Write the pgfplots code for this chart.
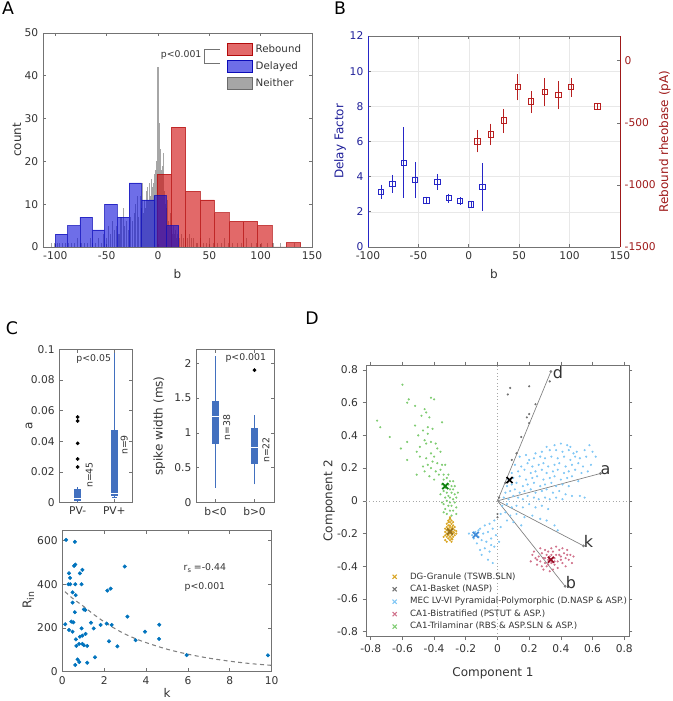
\documentclass[border=0pt]{standalone}
\usepackage{pgfplots}
\pgfplotsset{compat=1.18}
\usepackage{fontspec}
\setmainfont{DejaVu Sans}
\definecolor{axgray}{rgb}{0.45,0.45,0.45}
\definecolor{txt}{rgb}{0.2,0.2,0.2}
\definecolor{hred}{rgb}{0.82,0.05,0.05}
\definecolor{hblue}{rgb}{0.05,0.05,0.85}
\definecolor{hgray}{rgb}{0.42,0.42,0.42}
\definecolor{dblue}{rgb}{0.12,0.12,0.6}
\definecolor{mblue}{rgb}{0.15,0.15,0.78}
\definecolor{dred}{rgb}{0.62,0.1,0.1}
\definecolor{mred}{rgb}{0.72,0.12,0.12}
\definecolor{bxc}{rgb}{0.26,0.44,0.75}
\definecolor{sct}{rgb}{0.0,0.45,0.74}
\definecolor{cOr}{rgb}{0.85,0.65,0.15}
\definecolor{cOrD}{rgb}{0.6,0.45,0.12}
\definecolor{cGr}{rgb}{0.45,0.45,0.45}
\definecolor{cBl}{rgb}{0.5,0.78,0.96}
\definecolor{cBlD}{rgb}{0.25,0.55,0.85}
\definecolor{cRd}{rgb}{0.82,0.45,0.55}
\definecolor{cRdD}{rgb}{0.6,0.05,0.15}
\definecolor{cGn}{rgb}{0.5,0.8,0.45}
\definecolor{cGnD}{rgb}{0.05,0.5,0.05}
\newcommand{\tk}{\fontsize{8}{9}\selectfont}
\newcommand{\lb}{\fontsize{9}{10}\selectfont}
\newcommand{\an}{\fontsize{7}{8}\selectfont}
\newcommand{\pl}{\fontsize{13}{13}\selectfont}
\pgfplotsset{
  base/.style={scale only axis, anchor=south west,
    axis line style={draw=axgray, line width=0.5pt},
    tick style={draw=axgray, line width=0.5pt},
    tick align=inside, major tick length=2.5pt,
    ticklabel style={font=\tk, text=txt},
    label style={font=\lb, text=txt},
    /pgf/number format/assume math mode=true,
    /pgf/number format/1000 sep={}},
}
\begin{document}
\begin{tikzpicture}
\useasboundingbox (0,0) rectangle (504.75pt,525.75pt);
% ================= A =================
\begin{axis}[base, at={(32.25pt,340.5pt)}, width=201.75pt, height=160.5pt,
  xmin=-112, xmax=150, ymin=0, ymax=50,
  xtick={-100,-50,0,50,100,150}, ytick={0,10,20,30,40,50},
  xlabel={b}, ylabel={count},
  ylabel style={at={(axis description cs:-0.097,0.5)}, anchor=center},
  legend style={at={(0.975,0.965)}, anchor=north east, draw=none, fill=none,
    font=\fontsize{7.7}{8}\selectfont, text=txt, row sep=1.2pt, inner sep=1pt},
  legend cell align=left,
  legend image code/.code={\draw[#1] (0pt,-4.5pt) rectangle (18.75pt,4.5pt);}]
\addplot[forget plot, ycomb, draw=hgray, line width=0.8pt, opacity=0.6] coordinates {
(-104,1)(-101,1)(-98,1)(-96,1)(-93,1)(-90,1)(-87,1)(-84,1)(-81,1)(-78,2)(-75,1)(-72,1)(-69,1)(-66,2)(-64,1)(-61,1)(-58,2)(-55,1)(-53,3)(-50,2)(-48,5)(-46,3)(-44,6)(-42,4)(-40,5)(-38,3)(-36,7)(-34,9)(-33,5)(-31,6)(-29,4)(-27,7)(-25,6)(-23,8)(-22,10)(-20,12)(-19,7)(-17,12)(-16,9)(-15,15)(-14,8)(-13,11)(-12,9)(-11,13)(-10,14)(-9,11)(-8,15)(-7,12)(-6,16)(-5,14)(-4,15)(-3,17)(-2,18)(-1,20)(0,42)(1,29)(2,23)(3,18)(4,19)(5,22)(6,13)(7,10)(8,9)(9,11)(10,6)(11,5)(12,8)(13,4)(14,3)(15,5)(16,3)(17,4)(18,2)(19,3)(21,2)(23,3)(25,2)(27,4)(29,2)(31,3)(33,2)(35,2)(38,1)(41,2)(44,1)(47,1)(50,2)(54,1)(58,1)(62,1)(65,2)(69,1)(73,1)(77,1)(81,1)(86,2)(91,1)(96,1)(101,1)(107,1)(112,1)(119,1)(133,1)};
\addplot[forget plot, ybar interval, fill=hred, fill opacity=0.62, draw=hred!85!black, draw opacity=0.7, line width=0.4pt] coordinates {
(-1,17)(13,28)(27,13)(41,11)(55,8)(69,6)(83,6)(97,5)(111,0)(125,1)(139,0)};
\addplot[forget plot, ybar interval, fill=hblue, fill opacity=0.6, draw=hblue!85!black, draw opacity=0.7, line width=0.4pt] coordinates {
(-100,3)(-88,5)(-76,7)(-64,4)(-52,10)(-40,7)(-28,15)(-16,11)(-4,12)(8,5)(20,0)};
\addlegendimage{fill=hred, fill opacity=0.62, draw=hred!85!black}
\addlegendentry{Rebound}
\addlegendimage{fill=hblue, fill opacity=0.6, draw=hblue!85!black}
\addlegendentry{Delayed}
\addlegendimage{fill=hgray, fill opacity=0.6, draw=hgray}
\addlegendentry{Neither}
\end{axis}
% ================= B =================
\begin{axis}[base, at={(276pt,340.5pt)}, width=189pt, height=158.25pt,
  xmin=-100, xmax=150, ymin=0, ymax=12,
  xtick={-100,-50,0,50,100,150}, ytick={0,2,4,6,8,10,12},
  separate axis lines, axis x line*=box, axis y line*=left,
  y axis line style={draw=mblue},
  yticklabel style={text=dblue},
  ylabel style={text=dblue, at={(axis description cs:-0.111,0.5)}, anchor=center},
  xlabel={b}, ylabel={Delay Factor},
  grid=major, grid style={draw=gray!18, line width=0.4pt}]
\addplot[mblue, only marks, mark=square, mark size=2pt, mark options={line width=0.6pt},
  error bars/.cd, y dir=both, y explicit, error mark options={mblue, mark size=2pt, line width=0.6pt},
  error bar style={line width=0.6pt}] coordinates {
(-87.1,3.15) +- (0,0.25)
(-75.9,3.6) +- (0,0.35)
(-64.7,4.8) +- (0,1.85)
(-53.4,3.8) +- (0,0.87)
(-42.2,2.65) +- (0,0.06)
(-31,3.7) +- (0,0.3)
(-20,2.78) +- (0,0.1)
(-8.5,2.62) +- (0,0.06)
(2.4,2.42) +- (0,0.06)
(13.6,3.4) +- (0,1.2)};
\end{axis}
\begin{axis}[base, at={(276pt,340.5pt)}, width=189pt, height=158.25pt,
  xmin=-100, xmax=150, ymin=-1500, ymax=200,
  ytick={-1500,-1000,-500,0},
  separate axis lines, axis x line=none, axis y line*=right,
  y axis line style={draw=dred},
  yticklabel style={text=dred},
  ylabel style={text=dred, at={(axis description cs:1.178,0.5)}, anchor=center, rotate=0},
  ylabel={Rebound rheobase (pA)}]
\addplot[mred, only marks, mark=square, mark size=2pt, mark options={line width=0.6pt},
  error bars/.cd, y dir=both, y explicit, error mark options={mred, mark size=2pt, line width=0.6pt},
  error bar style={line width=0.6pt}] coordinates {
(8.4,-649) += (0,72) -= (0,67)
(21.9,-593) += (0,65) -= (0,64)
(34.7,-480) += (0,72) -= (0,81)
(48.6,-212) += (0,81) -= (0,86)
(61.8,-327) += (0,61) -= (0,73)
(75.4,-250) += (0,89) -= (0,91)
(88.9,-276) += (0,91) -= (0,94)
(101.5,-212) += (0,51) -= (0,54)
(127.6,-368) += (0,0) -= (0,0)};
\end{axis}
% ================= C1 =================
\begin{axis}[base, at={(44.475pt,148.875pt)}, width=55.05pt, height=114.9pt,
  xmin=0.5, xmax=2.5, ymin=0, ymax=0.1, scaled y ticks=false,
  xtick={1,2}, xticklabels={PV-,PV+},
  ytick={0,0.02,0.04,0.06,0.08,0.1}, yticklabels={0,0.02,0.04,0.06,0.08,0.1},
  ylabel={a}, ylabel style={at={(axis description cs:-0.41,0.5)}, anchor=center}]
\addplot[bxc, line width=0.6pt] coordinates {(1,0)(1,0.0103)};
\addplot[bxc, line width=5pt] coordinates {(1,0.0012)(1,0.0086)};
\addplot[white, line width=0.8pt] coordinates {(0.88,0.0025)(1.12,0.0025)};
\addplot[bxc, line width=0.6pt] coordinates {(2,0.0035)(2,0.0975)};
\addplot[bxc, line width=0.6pt] coordinates {(1.93,0.0035)(2.07,0.0035)};
\addplot[bxc, line width=5pt] coordinates {(2,0.0045)(2,0.047)};
\addplot[white, line width=0.8pt] coordinates {(1.88,0.0058)(2.12,0.0058)};
\addplot[only marks, mark=*, mark size=1.2pt, black] coordinates {(1,0.0558)(1,0.0532)(1,0.0386)(1,0.0284)(1,0.0232)};
\end{axis}
% ================= C2 =================
\begin{axis}[base, at={(147pt,148.875pt)}, width=58.5pt, height=114.9pt,
  xmin=0.5, xmax=2.5, ymin=0, ymax=2.2,
  xtick={1,2}, xticklabels={b<0,b>0},
  ytick={0,0.5,1,1.5,2}, yticklabels={0,0.5,1,1.5,2},
  ylabel={spike width (ms)}]
\addplot[bxc, line width=0.6pt] coordinates {(1,0.21)(1,2.105)};
\addplot[bxc, line width=5pt] coordinates {(1,0.839)(1,1.457)};
\addplot[white, line width=0.8pt] coordinates {(0.88,1.237)(1.12,1.237)};
\addplot[bxc, line width=0.6pt] coordinates {(2,0.26)(2,1.25)};
\addplot[bxc, line width=5pt] coordinates {(2,0.55)(2,1.065)};
\addplot[white, line width=0.8pt] coordinates {(1.88,0.785)(2.12,0.785)};
\addplot[only marks, mark=*, mark size=1.2pt, black] coordinates {(2,1.9)};
\end{axis}
% ================= C3 =================
\begin{axis}[base, at={(46.725pt,21.975pt)}, width=157.05pt, height=105.75pt,
  xmin=0, xmax=10, ymin=0, ymax=645,
  xtick={0,2,4,6,8,10}, ytick={0,200,400,600},
  xlabel={k}, ylabel={R\raisebox{-0.4ex}{\fontsize{7}{7}\selectfont in}},
  xlabel style={at={(axis description cs:0.5,-0.148)}, anchor=center},
  ylabel style={at={(axis description cs:-0.162,0.508)}, anchor=center}]
\addplot[smooth, gray, dashed, line width=0.8pt, dash pattern=on 3pt off 2.5pt] coordinates {
(0.13,366)(0.5,335)(1,300)(1.5,262)(2,228)(2.5,198)(3,172)(3.5,151)(4,133)(5,103)(6,80)(7,62)(8,48)(9,37)(10,29)};
\addplot[only marks, mark=*, mark size=1.3pt, sct] coordinates {
(0.18,603)(0.6,594)(0.56,484)(0.62,490)(0.32,450)(0.37,429)(0.29,400)(0.38,400)(0.62,400)(0.92,400)(0.96,466)(0.84,450)(0.49,363)(0.64,350)(0.49,316)(1.03,285)(1.1,282)(0.6,272)(0.43,229)(0.53,226)(0.14,217)(0.32,191)(0.49,183)(0.92,198)(0.65,148)(0.84,160)(0.96,165)(1.11,173)(0.8,127)(0.96,127)(1.03,121)(0.67,118)(1.19,118)(0.73,56)(0.81,44)(1.19,41)(0.62,31)(1.56,66)(1.37,224)(1.5,198)(1.83,214)(2.12,220)(2.36,214)(2.15,371)(2.31,380)(2.23,139)(2.63,116)(2.98,481)(3.11,252)(3.5,144)(3.95,183)(4.63,215)(4.62,150)(5.94,76)(9.82,75)};
\end{axis}
% ================= D =================
\begin{axis}[base, at={(274.5pt,48.225pt)}, width=197.25pt, height=203.775pt,
  xmin=-0.83, xmax=0.83, ymin=-0.83, ymax=0.83, tick align=outside,
  xtick={-0.8,-0.6,-0.4,-0.2,0,0.2,0.4,0.6,0.8}, xticklabels={-0.8,-0.6,-0.4,-0.2,0,0.2,0.4,0.6,0.8},
  ytick={-0.8,-0.6,-0.4,-0.2,0,0.2,0.4,0.6,0.8}, yticklabels={-0.8,-0.6,-0.4,-0.2,0,0.2,0.4,0.6,0.8},
  xlabel={Component 1}, ylabel={Component 2},
  xlabel style={at={(axis description cs:0.483,-0.135)}, anchor=center},
  ylabel style={at={(axis description cs:-0.14,0.5)}, anchor=center},
  legend style={at={(0.095,0.252)}, anchor=north west, draw=none, fill=none,
    font=\fontsize{6.5}{7}\selectfont, text=txt, row sep=-1.1pt, inner sep=1pt},
  legend cell align=left]
\addplot[forget plot, gray!70, dotted, line width=0.5pt] coordinates {(0,-0.83)(0,0.83)};
\addplot[forget plot, gray!70, dotted, line width=0.5pt] coordinates {(-0.83,0)(0.83,0)};
% green
\addplot[forget plot, only marks, mark=*, mark size=0.6pt, cGn] coordinates {
(-0.60,0.71)(-0.56,0.62)(-0.57,0.60)(-0.42,0.63)(-0.40,0.62)(-0.76,0.49)(-0.74,0.45)(-0.68,0.39)(-0.52,0.58)(-0.46,0.56)(-0.45,0.54)(-0.48,0.52)(-0.43,0.51)(-0.35,0.48)(-0.52,0.46)(-0.44,0.45)(-0.46,0.37)(-0.45,0.35)(-0.42,0.36)(-0.39,0.35)(-0.38,0.32)(-0.61,0.32)(-0.57,0.36)(-0.57,0.25)(-0.51,0.30)(-0.49,0.27)(-0.51,0.16)(-0.47,0.21)(-0.42,0.20)(-0.38,0.23)(-0.35,0.22)(-0.33,0.22)(-0.39,0.18)(-0.37,0.16)(-0.34,0.16)
(-0.47,0.43)(-0.50,0.40)(-0.44,0.41)(-0.41,0.44)(-0.49,0.33)(-0.42,0.29)(-0.45,0.26)(-0.40,0.27)(-0.36,0.30)(-0.44,0.22)(-0.41,0.24)(-0.46,0.18)(-0.43,0.15)(-0.36,0.19)(-0.40,0.13)
(-0.34,0.13)(-0.32,0.14)(-0.30,0.12)(-0.35,0.10)(-0.31,0.10)(-0.29,0.09)(-0.33,0.08)(-0.30,0.07)(-0.28,0.07)(-0.34,0.06)(-0.32,0.05)(-0.29,0.05)(-0.27,0.04)(-0.31,0.03)(-0.33,0.02)(-0.30,0.02)(-0.28,0.01)(-0.26,0.02)(-0.32,0.00)(-0.30,-0.01)(-0.27,-0.01)(-0.34,-0.02)(-0.31,-0.03)(-0.29,-0.03)(-0.26,-0.04)(-0.33,-0.05)(-0.30,-0.06)(-0.28,-0.06)(-0.32,-0.08)(-0.29,-0.09)(-0.36,0.04)(-0.35,-0.01)(-0.27,0.09)(-0.25,0.05)(-0.31,0.16)(-0.28,0.12)(-0.34,-0.07)(-0.26,-0.08)(-0.30,-0.11)};
% orange
\addplot[forget plot, only marks, mark=*, mark size=0.6pt, cOr] coordinates {
(-0.30,-0.11)(-0.29,-0.12)(-0.31,-0.12)(-0.30,-0.13)(-0.28,-0.13)(-0.32,-0.14)(-0.29,-0.14)(-0.31,-0.15)(-0.30,-0.15)(-0.28,-0.15)(-0.27,-0.16)(-0.32,-0.16)(-0.30,-0.16)(-0.29,-0.17)(-0.31,-0.17)(-0.33,-0.17)(-0.28,-0.17)(-0.30,-0.18)(-0.32,-0.18)(-0.27,-0.18)(-0.29,-0.19)(-0.31,-0.19)(-0.33,-0.19)(-0.28,-0.19)(-0.30,-0.20)(-0.26,-0.20)(-0.32,-0.20)(-0.29,-0.21)(-0.31,-0.21)(-0.27,-0.21)(-0.33,-0.21)(-0.30,-0.22)(-0.28,-0.22)(-0.32,-0.22)(-0.29,-0.23)(-0.31,-0.23)(-0.33,-0.24)(-0.30,-0.24)(-0.32,-0.25)(-0.29,-0.25)(-0.31,-0.13)(-0.285,-0.16)(-0.305,-0.175)(-0.295,-0.195)(-0.315,-0.205)(-0.275,-0.195)(-0.26,-0.185)(-0.34,-0.22)(-0.30,-0.10)(-0.285,-0.235)};
% light blue
\addplot[forget plot, only marks, mark=*, mark size=0.6pt, cBl] coordinates {
(0.31,0.33)(0.36,0.34)(0.40,0.35)(0.44,0.34)(0.46,0.33)(0.58,0.34)
(0.24,0.29)(0.28,0.30)(0.33,0.31)(0.37,0.31)(0.41,0.30)(0.45,0.31)(0.48,0.29)(0.50,0.30)(0.55,0.31)(0.60,0.30)(0.18,0.28)
(0.14,0.27)(0.20,0.25)(0.23,0.26)(0.27,0.27)(0.30,0.26)(0.34,0.27)(0.38,0.26)(0.42,0.27)(0.46,0.25)(0.49,0.27)(0.52,0.26)(0.56,0.27)(0.62,0.27)
(0.11,0.22)(0.15,0.21)(0.19,0.23)(0.22,0.21)(0.26,0.22)(0.29,0.23)(0.32,0.21)(0.36,0.22)(0.39,0.23)(0.43,0.21)(0.47,0.22)(0.51,0.23)(0.54,0.21)(0.59,0.22)
(0.09,0.17)(0.13,0.18)(0.17,0.19)(0.21,0.17)(0.24,0.18)(0.28,0.19)(0.31,0.17)(0.35,0.18)(0.38,0.19)(0.42,0.17)(0.45,0.18)(0.49,0.19)(0.53,0.17)(0.57,0.18)
(0.07,0.13)(0.10,0.14)(0.14,0.15)(0.18,0.13)(0.22,0.14)(0.25,0.15)(0.29,0.13)(0.33,0.14)(0.36,0.15)(0.40,0.13)(0.44,0.14)(0.47,0.15)(0.51,0.12)
(0.06,0.09)(0.09,0.10)(0.12,0.11)(0.16,0.09)(0.19,0.10)(0.23,0.11)(0.27,0.09)(0.30,0.10)(0.34,0.11)(0.37,0.09)(0.41,0.10)(0.45,0.09)
(0.05,0.05)(0.08,0.06)(0.11,0.07)(0.14,0.05)(0.17,0.06)(0.21,0.07)(0.24,0.05)(0.28,0.06)(0.31,0.07)(0.35,0.05)(0.39,0.06)(0.43,0.04)(0.47,0.03)
(0.04,0.02)(0.07,0.01)(0.10,0.03)(0.13,0.02)(0.16,0.01)(0.19,0.03)(0.23,0.02)(0.26,0.01)(0.30,0.02)(0.33,0.01)(0.37,0.02)(0.41,0.01)(0.52,0.03)(0.55,0.02)
(0.03,-0.03)(0.06,-0.02)(0.09,-0.04)(0.12,-0.03)(0.16,-0.04)(0.20,-0.02)(0.24,-0.04)(0.28,-0.03)(0.32,-0.05)
(0.02,-0.08)(0.05,-0.07)(0.08,-0.09)(0.12,-0.08)(0.17,-0.10)(0.22,-0.09)(0.27,-0.11)(0.31,-0.12)(0.36,-0.15)
(0.10,-0.13)(0.15,-0.15)(0.38,-0.18)(0.06,-0.12)
(-0.02,-0.12)(-0.05,-0.14)(-0.08,-0.15)(-0.11,-0.17)(-0.14,-0.19)(-0.16,-0.21)(-0.12,-0.22)(-0.09,-0.20)(-0.06,-0.19)(-0.03,-0.17)(-0.18,-0.20)(-0.10,-0.24)(-0.07,-0.25)(-0.04,-0.23)(-0.01,-0.21)(-0.13,-0.26)(-0.08,-0.29)(-0.05,-0.31)(-0.02,-0.28)(-0.10,-0.33)(-0.06,-0.36)(-0.03,-0.38)(-0.11,-0.30)(0.01,-0.25)(-0.15,-0.23)(-0.12,-0.18)(0.02,-0.16)(-0.04,-0.27)};
% red
\addplot[forget plot, only marks, mark=*, mark size=0.6pt, cRd] coordinates {
(0.22,-0.33)(0.24,-0.35)(0.23,-0.31)(0.26,-0.34)(0.27,-0.37)(0.25,-0.39)(0.28,-0.32)(0.29,-0.35)(0.30,-0.38)(0.31,-0.33)(0.32,-0.36)(0.31,-0.40)(0.33,-0.34)(0.34,-0.38)(0.35,-0.31)(0.36,-0.35)(0.35,-0.42)(0.37,-0.33)(0.38,-0.37)(0.39,-0.30)(0.40,-0.34)(0.41,-0.38)(0.42,-0.32)(0.43,-0.35)(0.44,-0.30)(0.45,-0.36)(0.46,-0.33)(0.47,-0.38)(0.48,-0.34)(0.38,-0.41)(0.33,-0.43)(0.29,-0.42)(0.27,-0.29)(0.30,-0.30)(0.34,-0.29)(0.37,-0.28)(0.41,-0.29)(0.25,-0.36)(0.28,-0.40)(0.32,-0.39)(0.36,-0.39)(0.40,-0.36)(0.30,-0.35)(0.34,-0.33)(0.36,-0.37)(0.32,-0.31)(0.43,-0.40)(0.21,-0.37)(0.39,-0.33)(0.44,-0.33)};
% gray
\addplot[forget plot, only marks, mark=*, mark size=0.6pt, cGr] coordinates {
(0.08,0.69)(0.065,0.65)(0.20,0.70)(0.185,0.51)(0.20,0.53)(0.24,0.59)(0.33,0.73)(0.12,0.29)(0.09,0.25)(0.20,0.475)(0.0,-0.08)(0.0,-0.10)(0.01,0.02)(0.05,0.11)(0.15,0.39)};
% vectors
\addplot[forget plot, gray, line width=0.5pt, mark=*, mark size=0.8pt, mark indices={2}] coordinates {(0,0)(0.337,0.79)};
\addplot[forget plot, gray, line width=0.5pt, mark=*, mark size=0.8pt, mark indices={2}] coordinates {(0,0)(0.649,0.167)};
\addplot[forget plot, gray, line width=0.5pt, mark=*, mark size=0.8pt, mark indices={2}] coordinates {(0,0)(0.543,-0.275)};
\addplot[forget plot, gray, line width=0.5pt, mark=*, mark size=0.8pt, mark indices={2}] coordinates {(0,0)(0.427,-0.522)};
\node[font=\fontsize{12}{12}\selectfont, text=txt, anchor=west, inner sep=1pt] at (axis cs:0.34,0.785) {d};
\node[font=\fontsize{12}{12}\selectfont, text=txt, anchor=south west, inner sep=0.5pt] at (axis cs:0.645,0.155) {a};
\node[font=\fontsize{12}{12}\selectfont, text=txt, anchor=south west, inner sep=0.5pt] at (axis cs:0.54,-0.29) {k};
\node[font=\fontsize{12}{12}\selectfont, text=txt, anchor=south west, inner sep=0.5pt] at (axis cs:0.425,-0.54) {b};
% centers
\addplot[forget plot, only marks, mark=x, mark size=3.2pt, line width=1.3pt, cGnD] coordinates {(-0.33,0.09)};
\addplot[forget plot, only marks, mark=x, mark size=3.2pt, line width=1.3pt, black] coordinates {(0.076,0.127)};
\addplot[forget plot, only marks, mark=x, mark size=3.2pt, line width=1.3pt, cBlD] coordinates {(-0.137,-0.208)};
\addplot[forget plot, only marks, mark=x, mark size=3.2pt, line width=1.3pt, cRdD] coordinates {(0.337,-0.36)};
\addplot[forget plot, only marks, mark=x, mark size=3.2pt, line width=1.3pt, cOrD] coordinates {(-0.30,-0.188)};
\addlegendimage{only marks, mark=x, mark size=2.2pt, line width=0.8pt, cOr}
\addlegendentry{\hspace{8pt}DG-Granule (TSWB.SLN)}
\addlegendimage{only marks, mark=x, mark size=2.2pt, line width=0.8pt, cGr}
\addlegendentry{\hspace{8pt}CA1-Basket (NASP)}
\addlegendimage{only marks, mark=x, mark size=2.2pt, line width=0.8pt, cBl}
\addlegendentry{\hspace{8pt}MEC LV-VI Pyramidal-Polymorphic (D.NASP \& ASP.)}
\addlegendimage{only marks, mark=x, mark size=2.2pt, line width=0.8pt, cRd}
\addlegendentry{\hspace{8pt}CA1-Bistratified (PSTUT \& ASP.)}
\addlegendimage{only marks, mark=x, mark size=2.2pt, line width=0.8pt, cGn}
\addlegendentry{\hspace{8pt}CA1-Trilaminar (RBS \& ASP.SLN \& ASP.)}
\end{axis}
% ================= annotations (pixel coordinates) =================
\begin{scope}[shift={(0,525.75pt)}, x=0.75pt, y=-0.75pt]
\node[font=\pl, text=black] at (8,8) {A};
\node[font=\pl, text=black] at (340,8) {B};
\node[font=\pl, text=black] at (12,328) {C};
\node[font=\pl, text=black] at (312,318) {D};
\draw[axgray, line width=0.6pt] (220,49.3) -- (204,49.3) -- (204,63.3) -- (220,63.3);
\node[font=\an, text=txt, anchor=east, inner sep=1pt] at (203,55) {p<0.001};
\node[font=\an, text=txt] at (93.7,359.3) {p<0.05};
\node[font=\an, text=txt, rotate=90] at (89.3,475) {n=45};
\node[font=\an, text=txt, rotate=90] at (124.3,445) {n=9};
\node[font=\an, text=txt] at (245.8,358.3) {p<0.001};
\node[font=\an, text=txt, rotate=90] at (226.7,427.3) {n=38};
\node[font=\an, text=txt, rotate=90] at (266,450) {n=22};
\node[font=\an, text=txt, anchor=west] at (179,568) {r\raisebox{-0.5ex}{\fontsize{5}{5}\selectfont s} =-0.44};
\node[font=\an, text=txt, anchor=west] at (180,587) {p<0.001};
\end{scope}
\end{tikzpicture}
\end{document}
